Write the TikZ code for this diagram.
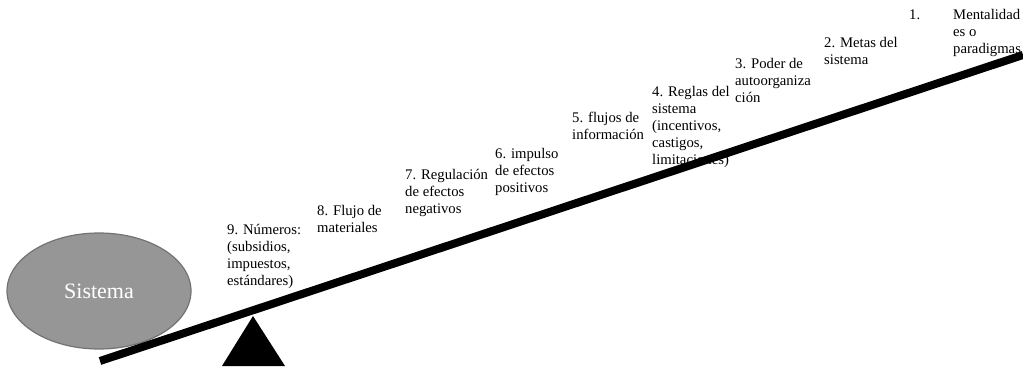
\documentclass[tikz,border=0pt]{standalone}
\usepackage{fontspec}
\setmainfont{Liberation Serif}
\usetikzlibrary{shapes.geometric}
\newcommand\labellines[1]{\begin{tabular}[t]{@{}l@{}}#1\end{tabular}}
\begin{document}
\begin{tikzpicture}[x=1pt,y=-1pt,
  lbl/.style={anchor=base west, inner sep=0pt, font=\fontsize{14.7}{17}\selectfont},
  systembox/.style={ellipse, draw=black!55, line width=1.2pt, fill=black!41,
    minimum width=184pt, minimum height=116pt, inner sep=0pt,
    text=white, font=\fontsize{22}{26}\selectfont},
  lever/.style={line width=8pt, line cap=butt},
  fulcrum/.style={fill=black}]
\useasboundingbox (0,0) rectangle (1023,370);

% the system being acted on
\node[systembox] (sistema) at (99,291) {Sistema};

% leverage points, from weakest (9) to strongest (1)
\node[lbl] (p9) at (227,234) {\labellines{9. Números:\\(subsidios,\\impuestos,\\estándares)}};
\node[lbl] (p8) at (317,215) {\labellines{8. Flujo de\\materiales}};
\node[lbl] (p7) at (405,179) {\labellines{7. Regulación\\de efectos\\negativos}};
\node[lbl] (p6) at (495,158) {\labellines{6. impulso\\de efectos\\positivos}};
\node[lbl] (p5) at (572,122) {\labellines{5. flujos de\\información}};
\node[lbl] (p4) at (652,96) {\labellines{4. Reglas del\\sistema\\(incentivos,\\castigos,\\limitaciones)}};
\node[lbl] (p3) at (735,68) {\labellines{3. Poder de\\autoorganiza\\ción}};
\node[lbl] (p2) at (824,47) {\labellines{2. Metas del\\sistema}};
\node[lbl] (p1) at (909,19.5) {\begin{tabular}[t]{@{}p{44pt}@{}l@{}}1. & Mentalidad\\ & es o\\ & paradigmas\end{tabular}};

% the lever and its fulcrum
\coordinate (lever-l) at (100,361);
\coordinate (lever-r) at (1023,55);
\draw[lever] (lever-l) -- (lever-r);

\coordinate (apex) at (253,316);
\coordinate (base-l) at (222,366);
\coordinate (base-r) at (285,366);
\fill[fulcrum] (apex) -- (base-r) -- (base-l) -- cycle;
\end{tikzpicture}
\end{document}
